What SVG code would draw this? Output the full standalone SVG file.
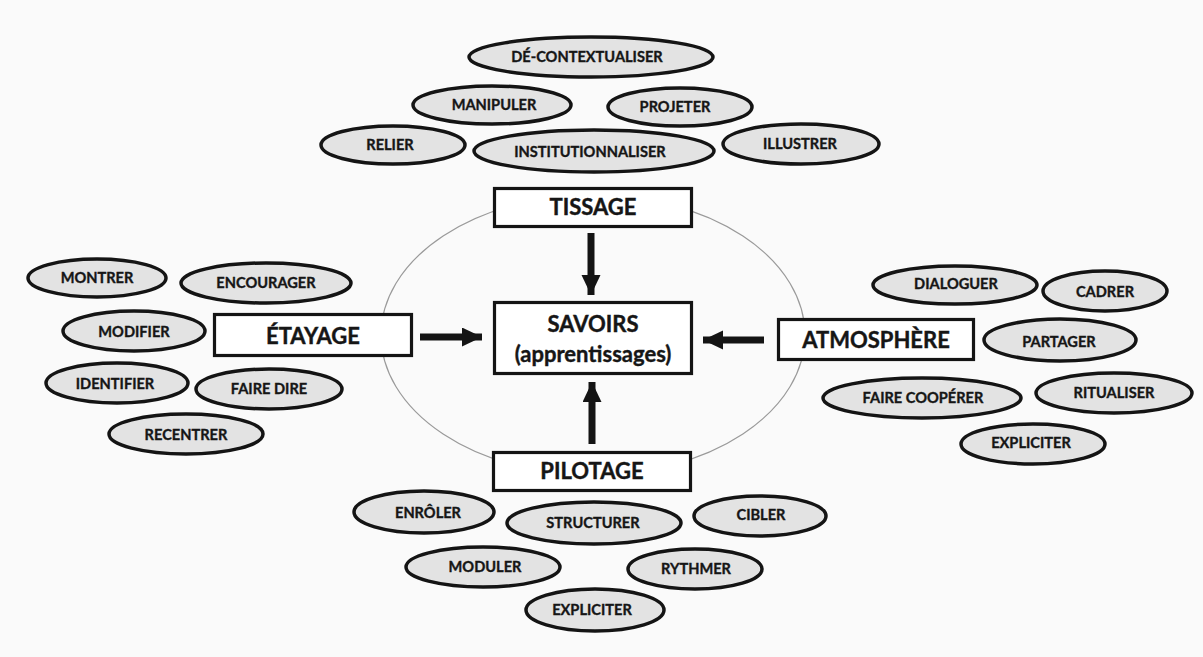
<svg xmlns="http://www.w3.org/2000/svg" width="1203" height="657" viewBox="0 0 1203 657">
<style>
.bg{fill:#fafafa}
.orbit{fill:none;stroke:#9a9a9a;stroke-width:1.2}
.pill ellipse{fill:#e3e3e3;stroke:#141414;stroke-width:3.5}
.pill text{font-family:Lato,"Open Sans",sans-serif;font-weight:700;font-size:14.6px;fill:#161616;stroke:#161616;stroke-width:0.35;text-anchor:middle}
.box rect{fill:#ffffff;stroke:#141414;stroke-width:3.2}
.box text{font-family:Lato,"Open Sans",sans-serif;font-weight:700;font-size:22px;fill:#161616;stroke:#161616;stroke-width:0.4;text-anchor:middle}
.arrow{stroke:#141414;stroke-width:7;fill:none;marker-end:url(#head)}
</style>
<defs>
<marker id="head" markerUnits="userSpaceOnUse" markerWidth="22" markerHeight="22" refX="20" refY="9.5" orient="auto">
<polygon points="0,0 20,9.5 0,19" fill="#141414"/>
</marker>
</defs>
<rect class="bg" x="0" y="0" width="1203" height="657"/>
<ellipse class="orbit" cx="593" cy="335" rx="212" ry="140"/>

<g id="connectors">
<line class="arrow" x1="591" y1="233" x2="591" y2="295"/>
<line class="arrow" x1="592" y1="444" x2="592" y2="382"/>
<line class="arrow" x1="420" y1="337" x2="482" y2="337"/>
<line class="arrow" x1="764" y1="340" x2="703" y2="340"/>
</g>

<g id="savoirs" class="box"><rect x="494.5" y="302.5" width="197" height="71"/><text x="593" y="332">SAVOIRS</text><text x="593" y="362">(apprentissages)</text></g>
<g id="tissage" class="box"><rect x="494.5" y="188.5" width="197" height="38"/><text x="593" y="215">TISSAGE</text></g>
<g id="etayage" class="box"><rect x="214.5" y="314.5" width="197" height="41"/><text x="313" y="344">ÉTAYAGE</text></g>
<g id="atmosphere" class="box"><rect x="778.5" y="319.5" width="195" height="40"/><text x="876" y="348">ATMOSPHÈRE</text></g>
<g id="pilotage" class="box"><rect x="493.5" y="452.5" width="197" height="38"/><text x="592" y="479">PILOTAGE</text></g>

<g id="decontextualiser" class="pill"><ellipse cx="591" cy="57" rx="122" ry="20"/><text x="587" y="62">DÉ-CONTEXTUALISER</text></g>
<g id="manipuler" class="pill"><ellipse cx="492" cy="105" rx="79" ry="19"/><text x="494" y="110">MANIPULER</text></g>
<g id="projeter" class="pill"><ellipse cx="680" cy="107" rx="72" ry="19"/><text x="675" y="112">PROJETER</text></g>
<g id="relier" class="pill"><ellipse cx="393" cy="145" rx="72" ry="19"/><text x="390" y="150">RELIER</text></g>
<g id="institutionnaliser" class="pill"><ellipse cx="594" cy="151" rx="120" ry="21"/><text x="590" y="157">INSTITUTIONNALISER</text></g>
<g id="illustrer" class="pill"><ellipse cx="801" cy="144" rx="78" ry="20"/><text x="800" y="149">ILLUSTRER</text></g>

<g id="montrer" class="pill"><ellipse cx="97" cy="278" rx="69" ry="19"/><text x="97" y="283">MONTRER</text></g>
<g id="encourager" class="pill"><ellipse cx="266" cy="283" rx="85" ry="20"/><text x="266" y="288">ENCOURAGER</text></g>
<g id="modifier" class="pill"><ellipse cx="134" cy="331" rx="71" ry="20"/><text x="134" y="337">MODIFIER</text></g>
<g id="identifier" class="pill"><ellipse cx="117" cy="383" rx="71" ry="20"/><text x="115" y="389">IDENTIFIER</text></g>
<g id="fairedire" class="pill"><ellipse cx="269" cy="389" rx="73" ry="20"/><text x="269" y="394">FAIRE DIRE</text></g>
<g id="recentrer" class="pill"><ellipse cx="186" cy="434" rx="77" ry="20"/><text x="186" y="440">RECENTRER</text></g>

<g id="dialoguer" class="pill"><ellipse cx="955" cy="285" rx="82" ry="19"/><text x="956" y="289">DIALOGUER</text></g>
<g id="cadrer" class="pill"><ellipse cx="1105" cy="291" rx="62" ry="20"/><text x="1105" y="297">CADRER</text></g>
<g id="partager" class="pill"><ellipse cx="1060" cy="340" rx="76" ry="21"/><text x="1059" y="347">PARTAGER</text></g>
<g id="fairecooperer" class="pill"><ellipse cx="922" cy="398" rx="99" ry="20"/><text x="923" y="403">FAIRE COOPÉRER</text></g>
<g id="ritualiser" class="pill"><ellipse cx="1114" cy="393" rx="78" ry="20"/><text x="1114" y="398">RITUALISER</text></g>
<g id="expliciter-a" class="pill"><ellipse cx="1033" cy="444" rx="72" ry="20"/><text x="1031" y="448">EXPLICITER</text></g>

<g id="enroler" class="pill"><ellipse cx="424" cy="512" rx="70" ry="21"/><text x="428" y="518">ENRÔLER</text></g>
<g id="structurer" class="pill"><ellipse cx="594" cy="523" rx="87" ry="21"/><text x="593" y="528">STRUCTURER</text></g>
<g id="cibler" class="pill"><ellipse cx="760" cy="516" rx="66" ry="20"/><text x="761" y="520">CIBLER</text></g>
<g id="moduler" class="pill"><ellipse cx="483" cy="567" rx="77" ry="20"/><text x="485" y="572">MODULER</text></g>
<g id="rythmer" class="pill"><ellipse cx="695" cy="569" rx="67" ry="20"/><text x="696" y="574">RYTHMER</text></g>
<g id="expliciter-p" class="pill"><ellipse cx="595" cy="610" rx="69" ry="21"/><text x="592" y="615">EXPLICITER</text></g>
</svg>
